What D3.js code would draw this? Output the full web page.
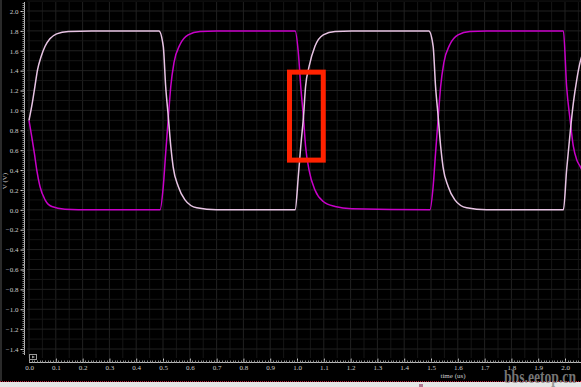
<!DOCTYPE html>
<html>
<head>
<meta charset="utf-8">
<script src="https://cdn.jsdelivr.net/npm/d3@7"></script>
<style>
  html, body { margin: 0; padding: 0; background: #000; overflow: hidden; }
  svg { display: block; }
</style>
</head>
<body>
<script>
// values (time in us, voltage in V)
var outT = [0, 0.012, 0.022, 0.032, 0.045, 0.060, 0.078, 0.103, 0.147, 0.234,
            0.485, 0.501, 0.510, 0.520, 0.529, 0.538, 0.557, 0.582, 0.626, 0.700,
            0.993, 1.005, 1.014, 1.024, 1.032, 1.045, 1.067, 1.098, 1.142, 1.204,
            1.492, 1.508, 1.517, 1.527, 1.536, 1.545, 1.564, 1.589, 1.633, 1.707,
            1.994, 2.006, 2.019, 2.031, 2.044, 2.056, 2.070];
var outV = [0.90, 1.07, 1.24, 1.41, 1.54, 1.645, 1.72, 1.77, 1.795, 1.80,
            1.80, 1.645, 1.24, 0.93, 0.64, 0.43, 0.235, 0.10, 0.02, 0.0,
            0.0, 0.34, 0.64, 0.93, 1.24, 1.44, 1.645, 1.76, 1.795, 1.80,
            1.80, 1.645, 1.24, 0.93, 0.64, 0.43, 0.235, 0.10, 0.02, 0.0,
            0.0, 0.40, 0.77, 1.07, 1.31, 1.48, 1.60];

var outbT = [0, 0.010, 0.020, 0.029, 0.041, 0.060, 0.085, 0.134, 0.234,
             0.489, 0.501, 0.510, 0.520, 0.529, 0.541, 0.563, 0.594, 0.638, 0.700,
             0.993, 1.005, 1.014, 1.024, 1.032, 1.045, 1.067, 1.098, 1.142, 1.204,
             1.496, 1.508, 1.517, 1.527, 1.536, 1.548, 1.570, 1.601, 1.645, 1.707,
             1.994, 2.006, 2.019, 2.031, 2.044, 2.056, 2.070];
var outbV = [0.90, 0.74, 0.57, 0.40, 0.235, 0.10, 0.033, 0.007, 0.0,
             0.0, 0.235, 0.57, 0.93, 1.24, 1.48, 1.66, 1.76, 1.795, 1.80,
             1.80, 1.58, 1.24, 0.93, 0.64, 0.40, 0.20, 0.084, 0.033, 0.01,
             0.0, 0.235, 0.57, 0.93, 1.24, 1.48, 1.66, 1.76, 1.795, 1.80,
             1.80, 1.24, 0.906, 0.64, 0.50, 0.44, 0.36];

var xTicks = [0.0, 0.1, 0.2, 0.3, 0.4, 0.5, 0.6, 0.7, 0.8, 0.9, 1.0,
              1.1, 1.2, 1.3, 1.4, 1.5, 1.6, 1.7, 1.8, 1.9, 2.0];
var yTicks = [-1.4, -1.2, -1.0, -0.8, -0.6, -0.4, -0.2, 0.0, 0.2, 0.4,
              0.6, 0.8, 1.0, 1.2, 1.4, 1.6, 1.8, 2.0];

// highlighted window (red box)
var boxT = [0.972, 1.098];
var boxV = [0.50, 1.385];

var W = 581, H = 387;

var svg = d3.select("body").append("svg")
    .attr("width", W)
    .attr("height", H);

var x = d3.scaleLinear().domain([0, 2]).range([29, 565]);
var y = d3.scaleLinear().domain([-1.4, 2.0]).range([349, 11]);

svg.append("rect").attr("width", W).attr("height", H).attr("fill", "#000");
svg.append("rect").attr("x", 0).attr("y", 0).attr("width", 2).attr("height", 381).attr("fill", "#2a2a2a");

// grid
var grid = svg.append("g");
var gx = d3.range(0, 2.11, 0.05);
var gy = d3.range(-1.4, 2.11, 0.1);
grid.selectAll("line.vx").data(gx).enter().append("line")
    .attr("x1", function(d) { return x(d); })
    .attr("x2", function(d) { return x(d); })
    .attr("y1", 2).attr("y2", 358)
    .style("stroke", function(d, i) { return i % 2 == 0 ? "#212121" : "#161616"; })
    .style("stroke-width", "1px");
grid.selectAll("line.hy").data(gy).enter().append("line")
    .attr("x1", 27).attr("x2", W)
    .attr("y1", function(d) { return y(d); })
    .attr("y2", function(d) { return y(d); })
    .style("stroke", function(d, i) { return i % 2 == 0 ? "#212121" : "#161616"; })
    .style("stroke-width", "1px");

// y axis
var yAxis = d3.axisLeft(y).tickValues(yTicks).tickSize(4).tickFormat(d3.format(".1f"));
var ya = svg.append("g").attr("transform", "translate(24.5,0)").call(yAxis);
ya.select(".domain").remove();
ya.append("line").attr("x1", 0).attr("x2", 0).attr("y1", 2).attr("y2", 355)
    .style("stroke", "#bbb");
ya.selectAll("line.minor").data(d3.range(-1.44, 2.1, 0.02)).enter().append("line")
    .attr("x1", -2).attr("x2", 0)
    .attr("y1", function(d) { return Math.round(y(d)) + 0.5; })
    .attr("y2", function(d) { return Math.round(y(d)) + 0.5; })
    .style("stroke", "#888");
ya.selectAll(".tick line").style("stroke", "#ccc");
ya.selectAll(".tick text")
    .attr("x", -6)
    .style("fill", "#ccc")
    .style("font-family", "Liberation Serif")
    .style("font-size", "7px");

// x axis
var xAxis = d3.axisBottom(x).tickValues(xTicks).tickSize(-4).tickFormat(d3.format(".1f"));
var xa = svg.append("g").attr("transform", "translate(0,362.5)").call(xAxis);
xa.select(".domain").remove();
xa.append("line").attr("x1", 29).attr("x2", W).attr("y1", 0).attr("y2", 0)
    .style("stroke", "#bbb");
xa.selectAll("line.minor").data(d3.range(0, 2.1, 0.01)).enter().append("line")
    .attr("x1", function(d) { return Math.round(x(d)) + 0.5; })
    .attr("x2", function(d) { return Math.round(x(d)) + 0.5; })
    .attr("y1", -2).attr("y2", 0)
    .style("stroke", "#888");
xa.selectAll(".tick line").style("stroke", "#ccc");
xa.selectAll(".tick text")
    .attr("y", 3)
    .style("fill", "#ccc")
    .style("font-family", "Liberation Serif")
    .style("font-size", "7px");

svg.append("text")
    .attr("x", 453).attr("y", 378)
    .attr("text-anchor", "middle")
    .style("fill", "#ccc")
    .style("font-family", "Liberation Serif")
    .style("font-size", "7px")
    .text("time (us)");

svg.append("text")
    .attr("transform", "translate(7,181) rotate(-90)")
    .attr("text-anchor", "middle")
    .style("fill", "#ccc")
    .style("font-family", "Liberation Serif")
    .style("font-size", "7px")
    .text("V (V)");

// small legend toggle box
svg.append("rect").attr("x", 29.5).attr("y", 354.5).attr("width", 7).attr("height", 5)
    .style("fill", "none").style("stroke", "#999");
svg.append("path").attr("d", "M32,355.5 L35,357 L32,358.5 Z").style("fill", "#999");

// waveforms
svg.append("clipPath").attr("id", "plotclip")
    .append("rect").attr("x", 27).attr("y", 0).attr("width", W - 27).attr("height", 360);

var line = d3.line()
    .x(function(d) { return x(d[0]); })
    .y(function(d) { return y(d[1]); })
    .curve(d3.curveMonotoneX);

var plot = svg.append("g").attr("clip-path", "url(#plotclip)");
plot.append("path")
    .attr("d", line(d3.zip(outbT, outbV)))
    .style("fill", "none")
    .style("stroke", "#c800c8")
    .style("stroke-width", "1.5px");
plot.append("path")
    .attr("d", line(d3.zip(outT, outV)))
    .style("fill", "none")
    .style("stroke", "#e8c4e4")
    .style("stroke-width", "1.5px");

// red highlight box
svg.append("rect")
    .attr("x", x(boxT[0])).attr("y", y(boxV[1]))
    .attr("width", x(boxT[1]) - x(boxT[0]))
    .attr("height", y(boxV[0]) - y(boxV[1]))
    .style("fill", "none")
    .style("stroke", "#ff2200")
    .style("stroke-width", "5px");

// bottom strip
svg.append("rect").attr("x", 0).attr("y", 382).attr("width", W).attr("height", 5).attr("fill", "#e6e6e6");
svg.append("line").attr("x1", 0).attr("x2", W).attr("y1", 381.5).attr("y2", 381.5)
    .style("stroke", "#c0203a").style("stroke-dasharray", "1,1");
svg.append("rect").attr("x", 419).attr("y", 384).attr("width", 4).attr("height", 3).attr("fill", "#b07890");

// watermark
svg.append("text")
    .attr("x", 504).attr("y", 383)
    .attr("textLength", 72)
    .attr("lengthAdjust", "spacingAndGlyphs")
    .style("fill", "#8a8a8a")
    .style("fill-opacity", 0.85)
    .style("font-family", "Liberation Sans Narrow")
    .style("font-weight", "bold")
    .style("font-size", "19px")
    .text("bbs.eetop.cn");
</script>
</body>
</html>
